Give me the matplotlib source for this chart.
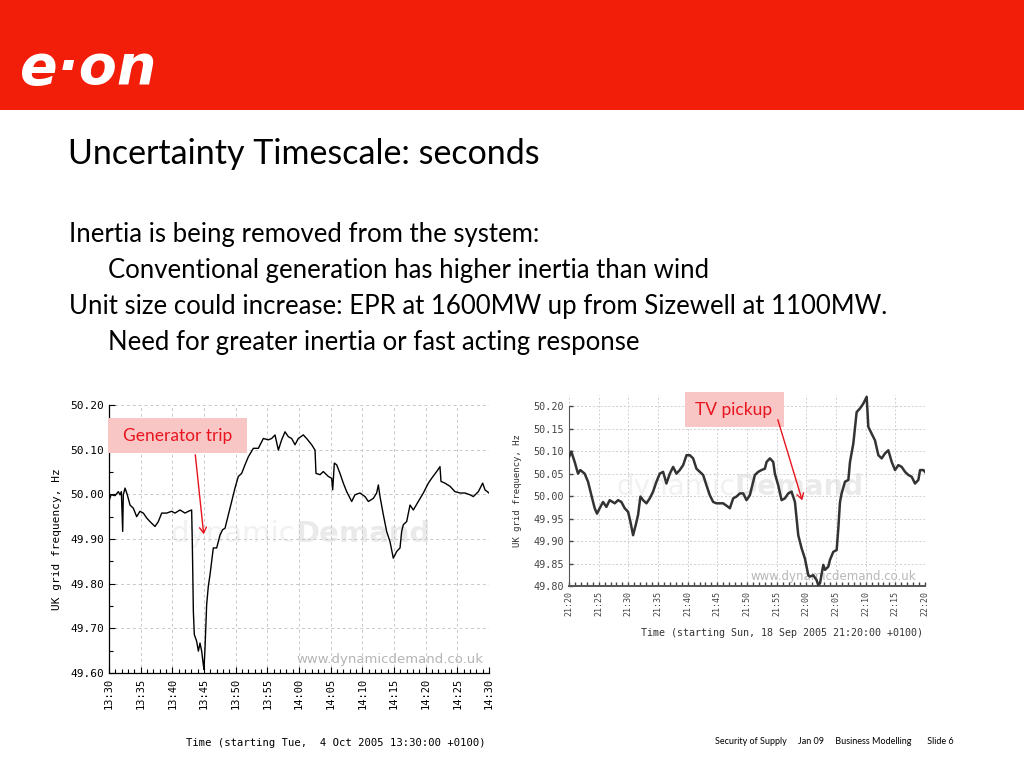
import matplotlib
matplotlib.use("Agg")
import matplotlib.pyplot as plt
from matplotlib.patches import Rectangle, FancyArrowPatch
from matplotlib.ticker import MultipleLocator, FormatStrFormatter

# ---------------- data ----------------
left_minutes = [0.0, 0.32, 0.95, 1.47, 1.74, 1.95, 2.16, 2.26, 2.53, 2.89, 3.32, 3.84, 4.37, 4.89,
                5.42, 5.95, 6.47, 7.26, 7.79, 8.32, 9.11, 9.89, 10.42, 11.21, 12.0, 12.53, 13.05,
                13.16, 13.32, 13.47, 13.84, 14.11, 14.37, 14.63, 14.89, 15.0, 15.16, 15.42, 15.68,
                15.95, 16.47, 17.0, 17.53, 17.95, 18.32, 18.84, 19.37, 19.89, 20.42, 20.95, 21.47,
                22.0, 22.79, 23.58, 24.37, 25.16, 25.68, 26.21, 26.74, 27.26, 27.79, 28.32, 28.84,
                29.37, 29.89, 30.68, 31.21, 32.0, 32.53, 32.68, 33.32, 33.84, 34.63, 35.16, 35.32,
                35.58, 35.95, 36.47, 37.0, 37.53, 38.32, 38.84, 39.63, 40.42, 40.95, 41.74, 42.26,
                42.53, 42.79, 43.32, 43.84, 44.37, 44.89, 45.42, 45.95, 46.21, 46.47, 47.0, 47.53,
                48.05, 48.84, 49.63, 50.42, 50.95, 51.74, 52.26, 52.42, 53.05, 53.84, 54.63, 55.42,
                56.21, 57.0, 57.53, 58.32, 59.0, 59.37, 60.0]
left_freq = [49.985, 49.999, 49.997, 50.006, 49.999, 50.006, 49.917, 49.999, 50.014, 49.999, 49.976,
             49.969, 49.950, 49.962, 49.958, 49.947, 49.939, 49.928, 49.939, 49.958, 49.958, 49.962,
             49.958, 49.965, 49.958, 49.962, 49.965, 49.887, 49.738, 49.686, 49.671, 49.649, 49.667,
             49.649, 49.619, 49.608, 49.656, 49.753, 49.794, 49.820, 49.880, 49.880, 49.909, 49.921,
             49.924, 49.954, 49.984, 50.014, 50.040, 50.047, 50.066, 50.084, 50.103, 50.103, 50.125,
             50.122, 50.125, 50.133, 50.099, 50.122, 50.140, 50.129, 50.125, 50.111, 50.125, 50.133,
             50.125, 50.111, 50.099, 50.047, 50.044, 50.051, 50.040, 50.036, 50.010, 50.070, 50.066,
             50.047, 50.025, 50.006, 49.984, 49.999, 50.003, 49.995, 49.984, 49.991, 50.003, 50.021,
             49.995, 49.954, 49.917, 49.894, 49.857, 49.872, 49.880, 49.917, 49.932, 49.939, 49.976,
             49.965, 49.984, 50.003, 50.025, 50.036, 50.051, 50.062, 50.029, 50.025, 50.018, 50.006,
             50.003, 50.003, 49.999, 49.995, 50.006, 50.025, 50.010, 50.003]
left_xticklabels = ["13:30", "13:35", "13:40", "13:45", "13:50", "13:55", "14:00",
                    "14:05", "14:10", "14:15", "14:20", "14:25", "14:30"]

right_minutes = [0.0, 0.39, 0.96, 1.52, 1.91, 2.64, 3.21, 3.77, 4.33, 4.72, 5.17, 5.74, 6.30, 6.86,
                 7.71, 8.27, 8.83, 9.39, 9.96, 10.35, 10.80, 11.25, 11.64, 12.04, 12.49, 13.05, 13.61,
                 14.17, 14.74, 15.30, 15.86, 16.42, 16.99, 17.55, 18.11, 18.67, 19.24, 19.80, 20.36,
                 20.92, 21.48, 22.05, 22.61, 23.17, 23.73, 24.30, 24.86, 25.98, 26.83, 27.11, 27.67,
                 28.23, 28.80, 29.36, 29.92, 30.48, 30.76, 31.33, 31.89, 32.45, 33.01, 33.30, 33.86,
                 34.42, 34.70, 35.26, 35.83, 36.39, 36.95, 37.51, 38.08, 38.64, 39.20, 39.76, 40.33,
                 40.61, 41.17, 41.73, 42.01, 42.30, 42.86, 43.14, 43.70, 43.98, 44.54, 45.11, 45.39,
                 45.67, 45.95, 46.51, 47.08, 47.36, 47.92, 48.48, 49.04, 49.61, 50.17, 50.45, 51.01,
                 51.57, 52.14, 52.70, 53.26, 53.82, 54.39, 54.95, 55.51, 56.07, 56.64, 57.20, 57.76,
                 58.32, 58.88, 59.17, 59.73, 60.0]
right_freq = [50.087, 50.099, 50.076, 50.050, 50.058, 50.050, 50.032, 50.002, 49.973, 49.961, 49.973,
              49.987, 49.976, 49.991, 49.984, 49.991, 49.987, 49.973, 49.965, 49.943, 49.913, 49.936,
              49.958, 49.999, 49.991, 49.984, 49.995, 50.010, 50.032, 50.050, 50.054, 50.028, 50.050,
              50.065, 50.050, 50.058, 50.069, 50.091, 50.091, 50.084, 50.061, 50.054, 50.047, 50.024,
              50.002, 49.987, 49.984, 49.984, 49.976, 49.973, 49.995, 49.999, 50.006, 50.006, 49.991,
              50.002, 50.017, 50.047, 50.054, 50.058, 50.061, 50.076, 50.084, 50.076, 50.050, 50.024,
              49.991, 49.995, 50.006, 50.010, 49.987, 49.913, 49.884, 49.861, 49.824, 49.821, 49.824,
              49.813, 49.802, 49.806, 49.847, 49.836, 49.843, 49.858, 49.876, 49.880, 49.928, 49.987,
              50.006, 50.032, 50.036, 50.076, 50.117, 50.187, 50.195, 50.206, 50.221, 50.154, 50.139,
              50.124, 50.091, 50.084, 50.095, 50.102, 50.076, 50.058, 50.069, 50.065, 50.054, 50.047,
              50.043, 50.028, 50.036, 50.058, 50.058, 50.054]
right_xticklabels = ["21:20", "21:25", "21:30", "21:35", "21:40", "21:45", "21:50",
                     "21:55", "22:00", "22:05", "22:10", "22:15", "22:20"]

title_text = "Uncertainty Timescale: seconds"
body_lines = [("Inertia is being removed from the system:", 0),
              ("Conventional generation has higher inertia than wind", 1),
              ("Unit size could increase: EPR at 1600MW up from Sizewell at 1100MW.", 0),
              ("Need for greater inertia or fast acting response", 1)]

W, H = 1024, 768
fig = plt.figure(figsize=(W / 100, H / 100), dpi=100)
fig.patch.set_facecolor("white")


def fx(x):
    return x / W


def fy(y):
    return 1 - y / H


def axes_px(l, t, r, b):
    return fig.add_axes([fx(l), fy(b), (r - l) / W, (b - t) / H])


# ---------- header ----------
fig.patches.append(Rectangle((0, fy(110)), 1, 110 / H, transform=fig.transFigure,
                             facecolor="#F21E0A", edgecolor="none", zorder=0))
fig.text(fx(20), fy(69), "e\u00b7on", color="white", fontsize=40, fontweight="bold",
         fontstyle="italic", family="DejaVu Sans", va="center", ha="left")

# ---------- title and body ----------
fig.text(fx(68), fy(164), title_text, fontsize=24.5, family="Lato", va="baseline", ha="left",
         color="black")
baselines = [242, 278, 314, 350]
for (txt, ind), yb in zip(body_lines, baselines):
    fig.text(fx(69 if ind == 0 else 108), fy(yb), txt, fontsize=18.5, family="Lato",
             va="baseline", ha="left", color="black")

mono = "DejaVu Sans Mono"
grid_kw = dict(color="#C8C8C8", linestyle=(0, (3, 3)), linewidth=0.7)

# ---------- left chart ----------
ax1 = axes_px(109, 405, 489, 673)
ax1.plot(left_minutes, left_freq, color="black", linewidth=1.0, zorder=3)
ax1.set_xlim(0, 60)
ax1.set_ylim(49.60, 50.20)
ax1.xaxis.set_minor_locator(MultipleLocator(1))
ax1.set_xticks(range(0, 61, 5))
ax1.set_xticklabels(left_xticklabels, rotation=90, family=mono, fontsize=7.5)
ax1.yaxis.set_major_locator(MultipleLocator(0.1))
ax1.yaxis.set_minor_locator(MultipleLocator(0.05))
ax1.yaxis.set_major_formatter(FormatStrFormatter("%.2f"))
for lab in ax1.get_yticklabels():
    lab.set_family(mono)
    lab.set_fontsize(8)
ax1.tick_params(which="both", direction="in", length=4, width=0.8, colors="black")
ax1.tick_params(which="minor", length=3)
ax1.grid(True, which="major", **grid_kw)
for s in ["top", "right"]:
    ax1.spines[s].set_visible(False)
ax1.spines["left"].set_linewidth(0.9)
ax1.spines["bottom"].set_linewidth(0.9)
ax1.set_ylabel("UK grid frequency, Hz", family=mono, fontsize=8, labelpad=6)
ax1.text(0.49, 0.52, "dynamic", transform=ax1.transAxes, fontsize=21, color="#F1F1F1",
         ha="right", va="center", zorder=1)
ax1.text(0.49, 0.52, "Demand", transform=ax1.transAxes, fontsize=21, color="#EAEAEA",
         ha="left", va="center", fontweight="bold", zorder=1)
ax1.text(0.985, 0.05, "www.dynamicdemand.co.uk", transform=ax1.transAxes, fontsize=9.5,
         color="#B4B4B4", ha="right", va="center", zorder=1)
fig.text(fx(336), fy(743), "Time (starting Tue,  4 Oct 2005 13:30:00 +0100)", family=mono,
         fontsize=7.6, ha="center", va="center")

# annotation left
fig.patches.append(Rectangle((fx(108), fy(453)), 139 / W, 35 / H, transform=fig.transFigure,
                             facecolor="#F9C6C6", edgecolor="none", zorder=5))
fig.text(fx(178), fy(436), "Generator trip", color="#E8141E", fontsize=12.5, family="Lato",
         ha="center", va="center", zorder=6)
fig.patches.append(FancyArrowPatch((fx(195), fy(452)), (fx(204), fy(537)),
                                   transform=fig.transFigure, arrowstyle="->,head_length=4,head_width=2.5",
                                   color="#E8141E", linewidth=1.0, zorder=6))

# ---------- right chart ----------
ax2 = axes_px(569, 395, 925, 586)
ax2.plot(right_minutes, right_freq, color="#333333", linewidth=1.8, zorder=3)
ax2.set_xlim(0, 60)
ax2.set_ylim(49.80, 50.225)
ax2.xaxis.set_minor_locator(MultipleLocator(1))
ax2.set_xticks(range(0, 61, 5))
ax2.set_xticklabels(right_xticklabels, rotation=90, family=mono, fontsize=6, color="#333333")
ax2.set_yticks([49.80, 49.85, 49.90, 49.95, 50.00, 50.05, 50.10, 50.15, 50.20])
ax2.yaxis.set_major_formatter(FormatStrFormatter("%.2f"))
for lab in ax2.get_yticklabels():
    lab.set_family(mono)
    lab.set_fontsize(7.3)
    lab.set_color("#333333")
ax2.tick_params(which="both", direction="in", length=3, width=1.0, colors="#444444")
ax2.grid(True, which="major", color="#D0D0D0", linestyle=(0, (2, 2)), linewidth=0.7)
for s in ["top", "right"]:
    ax2.spines[s].set_visible(False)
ax2.spines["left"].set_color("#555555")
ax2.spines["left"].set_bounds(49.80, 50.20)
ax2.spines["bottom"].set_color("#555555")
ax2.spines["bottom"].set_linewidth(1.4)
ax2.set_ylabel("UK grid frequency, Hz", family=mono, fontsize=6.5, color="#333333", labelpad=8)
ax2.text(0.466, 0.52, "dynamic", transform=ax2.transAxes, fontsize=20, color="#F1F1F1",
         ha="right", va="center", zorder=1)
ax2.text(0.466, 0.52, "Demand", transform=ax2.transAxes, fontsize=20, color="#EAEAEA",
         ha="left", va="center", fontweight="bold", zorder=1)
ax2.text(0.975, 0.05, "www.dynamicdemand.co.uk", transform=ax2.transAxes, fontsize=8.5,
         color="#B8B8B8", ha="right", va="center", zorder=1)
fig.text(fx(782), fy(633), "Time (starting Sun, 18 Sep 2005 21:20:00 +0100)", family=mono,
         fontsize=7.2, ha="center", va="center", color="#333333")

fig.patches.append(Rectangle((fx(685), fy(427)), 99 / W, 35 / H, transform=fig.transFigure,
                             facecolor="#F9C6C6", edgecolor="none", zorder=5))
fig.text(fx(734), fy(410), "TV pickup", color="#E8141E", fontsize=12.5, family="Lato",
         ha="center", va="center", zorder=6)
fig.patches.append(FancyArrowPatch((fx(777), fy(417)), (fx(803), fy(503)),
                                   transform=fig.transFigure, arrowstyle="->,head_length=4,head_width=2.5",
                                   color="#E8141E", linewidth=1.0, zorder=6))

# ---------- footer ----------
fig.text(fx(715), fy(741), "Security of Supply     Jan 09     Business Modelling       Slide 6",
         fontsize=6.5, family="Lato", ha="left", va="center", color="black")

fig.savefig("out.png", dpi=100)
